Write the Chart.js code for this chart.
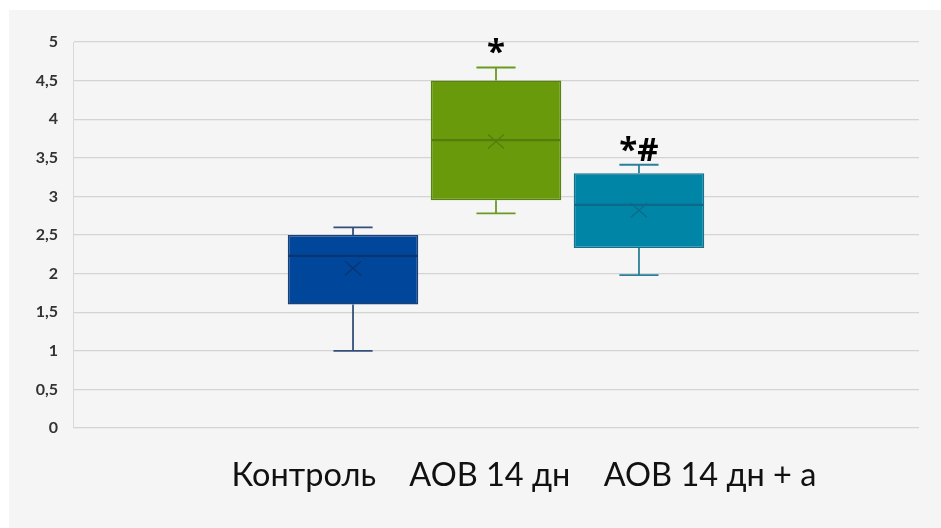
<!DOCTYPE html>
<html>
<head>
<meta charset="utf-8">
<script src="https://cdn.jsdelivr.net/npm/chart.js@4/dist/chart.umd.min.js"></script>
<style>
  html, body { margin: 0; padding: 0; background: #ffffff; }
  #panel { position: absolute; left: 9px; top: 10px; width: 932px; height: 518px; background: #f5f5f5; }
</style>
</head>
<body>
<div id="panel"><canvas id="chart"></canvas></div>
<script>
// Groups and five-number summaries (plus mean) for each box
const groups      = ['Контроль', 'АОВ 14 дн', 'АОВ 14 дн + а'];
const whiskerLow  = [1.00, 2.78, 1.98];
const quartile1   = [1.60, 2.95, 2.33];
const medians     = [2.23, 3.73, 2.89];
const means       = [2.07, 3.71, 2.82];
const quartile3   = [2.50, 4.50, 3.30];
const whiskerHigh = [2.60, 4.67, 3.41];
const marks       = ['', '*', '*#'];

// Appearance
const fills    = ['#00479b', '#699a0b', '#0085a7'];
const borders  = ['#1d3f77', '#5a8212', '#16708c'];
const whiskers = ['#34507a', '#6a9a22', '#2b7f98'];
const medianCl = ['#0b3470', '#557d0c', '#0c6a88'];

const gap = '\u00a0'.repeat(4);

// Whiskers, medians, mean markers and significance marks on top of the floating bars
const boxParts = {
  id: 'boxParts',
  afterDatasetsDraw(chart) {
    const ctx = chart.ctx;
    const y = chart.scales.y;
    chart.data.datasets.forEach((ds, i) => {
      const bar = chart.getDatasetMeta(i).data[0];
      if (!bar) return;
      const cx = bar.x;
      const half = bar.width / 2;
      const cap = bar.width * 0.15;
      const yLo = y.getPixelForValue(whiskerLow[i]);
      const yQ1 = y.getPixelForValue(quartile1[i]);
      const yQ3 = y.getPixelForValue(quartile3[i]);
      const yHi = y.getPixelForValue(whiskerHigh[i]);
      const yMed = y.getPixelForValue(medians[i]);
      const yMean = y.getPixelForValue(means[i]);
      ctx.save();
      // whiskers
      ctx.strokeStyle = whiskers[i];
      ctx.lineWidth = 1.8;
      ctx.beginPath();
      ctx.moveTo(cx, yQ3); ctx.lineTo(cx, yHi);
      ctx.moveTo(cx - cap, yHi); ctx.lineTo(cx + cap, yHi);
      ctx.moveTo(cx, yQ1); ctx.lineTo(cx, yLo);
      ctx.moveTo(cx - cap, yLo); ctx.lineTo(cx + cap, yLo);
      ctx.stroke();
      // median
      ctx.strokeStyle = medianCl[i];
      ctx.lineWidth = 2.2;
      ctx.beginPath();
      ctx.moveTo(cx - half + 1, yMed); ctx.lineTo(cx + half - 1, yMed);
      ctx.stroke();
      // mean marker
      ctx.strokeStyle = medianCl[i];
      ctx.lineWidth = 1.3;
      ctx.beginPath();
      ctx.moveTo(cx - 8, yMean - 7); ctx.lineTo(cx + 8, yMean + 7);
      ctx.moveTo(cx + 8, yMean - 7); ctx.lineTo(cx - 8, yMean + 7);
      ctx.stroke();
      // significance marks
      if (marks[i]) {
        ctx.fillStyle = '#000000';
        ctx.font = 'bold 33px "Open Sans"';
        ctx.textAlign = 'center';
        ctx.textBaseline = 'alphabetic';
        ctx.fillText(marks[i], cx, yHi - 4);
      }
      ctx.restore();
    });
  }
};

new Chart(document.getElementById('chart'), {
  type: 'bar',
  data: {
    labels: [groups.join(gap)],
    datasets: groups.map((g, i) => ({
      label: g,
      data: [[quartile1[i], quartile3[i]]],
      backgroundColor: fills[i],
      borderColor: borders[i],
      borderWidth: 1.5,
      borderSkipped: false,
      categoryPercentage: 0.507,
      barPercentage: 0.913
    }))
  },
  options: {
    responsive: true,
    maintainAspectRatio: false,
    animation: false,
    layout: { padding: { left: 0, right: 22, top: 32, bottom: 0 } },
    plugins: {
      legend: { display: false },
      tooltip: { enabled: false }
    },
    scales: {
      x: {
        grid: { display: false, drawTicks: false },
        border: { display: false },
        ticks: {
          color: '#111111',
          font: { family: 'Lato', size: 32.5 },
          padding: 28,
          labelOffset: 28,
          maxRotation: 0,
          autoSkip: false
        },
        afterFit(scale) { scale.height = 100; }
      },
      y: {
        min: 0,
        max: 5,
        grid: { color: '#d4d4d4', lineWidth: 1.3, drawTicks: false },
        border: { display: true, color: '#d9d9d9', width: 1 },
        ticks: {
          stepSize: 0.5,
          padding: 15,
          color: '#333333',
          font: { family: 'Lato', size: 16, weight: 'bold' },
          callback: (v) => String(v).replace('.', ',')
        },
        afterFit(scale) { scale.width = 64; }
      }
    }
  },
  plugins: [boxParts]
});
</script>
</body>
</html>
